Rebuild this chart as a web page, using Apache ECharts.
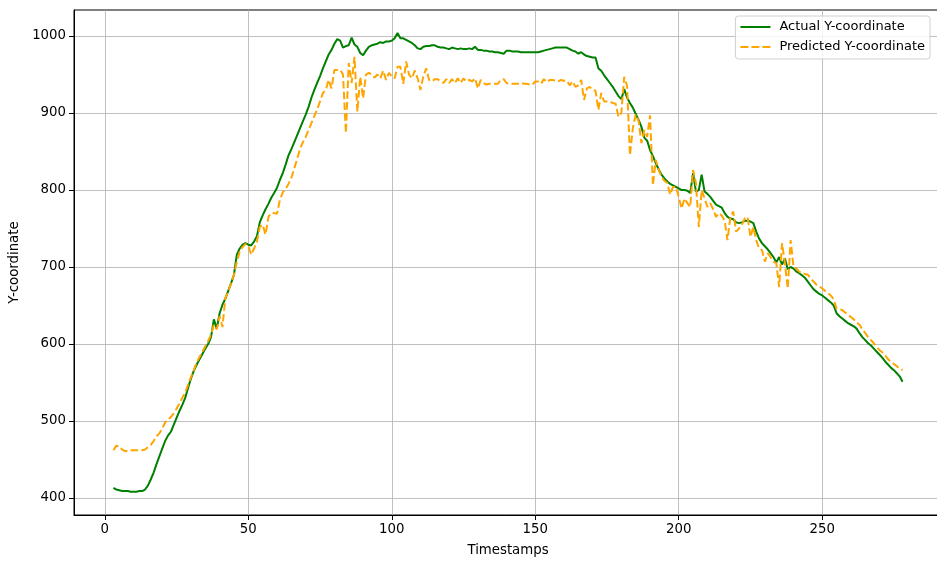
<!DOCTYPE html>
<html>
<head>
<meta charset="utf-8">
<script src="https://cdn.jsdelivr.net/npm/echarts@6/dist/echarts.min.js"></script>
<style>html,body{margin:0;padding:0;background:#fff;}#c{width:937px;height:561px;}</style>
</head>
<body>
<div id="c"></div>
<script>
const startT = 3;
const actual = [
413,411,410,409,409,409,408,408,408,409,409,411,416,424,433,444,454,464,474,481,
486,495,504,513,521,530,543,555,565,573,580,587,594,600,609,632,620,640,651,659,
669,679,690,716,724,729,731,729,728,733,740,758,767,775,782,790,796,803,813,822,
833,845,853,862,871,880,889,898,908,920,930,939,948,958,967,976,982,990,996,994,
985,987,988,998,989,986,978,975,981,986,988,989,990,992,991,993,993,994,997,1004,
997,997,995,993,991,988,984,983,986,987,987,988,988,986,985,985,984,983,985,984,
983,984,983,983,984,983,986,982,982,981,981,980,980,979,979,978,977,981,981,980,
980,980,979,979,979,979,979,979,979,980,981,982,983,984,985,985,985,985,985,983,
981,980,977,979,976,974,973,972,972,958,955,949,944,939,934,928,922,918,931,920,
913,907,899,891,882,868,864,852,844,835,827,820,815,811,808,806,804,802,800,800,
799,796,822,798,800,820,798,795,791,786,781,779,777,770,765,763,762,758,757,758,
760,760,759,757,746,737,731,727,723,718,713,706,713,703,711,697,700,698,694,692,
689,686,681,676,671,668,665,663,660,657,654,650,640,636,633,630,627,625,623,620,
614,609,605,601,598,594,590,586,582,577,573,569,566,562,558,551
];
const predicted = [
462,468,467,463,461,461,462,462,462,462,462,463,466,469,474,480,484,490,498,502,
505,510,516,523,530,537,547,557,566,576,583,590,597,604,612,625,619,636,622,660,
668,679,690,707,720,726,730,727,716,724,733,752,755,742,765,770,770,769,787,797,
801,808,816,828,840,853,862,869,878,887,896,905,915,926,930,943,932,956,956,956,
950,874,965,939,973,902,947,919,950,952,950,946,950,945,955,943,952,948,945,960,
960,938,967,950,945,955,945,930,948,958,943,941,944,944,941,939,944,939,944,939,
945,939,945,941,943,941,945,932,943,939,937,938,938,938,938,943,944,939,938,938,
938,938,939,938,938,937,937,941,941,938,944,940,943,943,942,941,943,942,942,936,
941,934,936,943,917,932,934,930,929,904,926,915,915,915,913,912,895,900,947,935,
845,880,898,890,861,878,869,897,806,839,826,817,812,809,794,804,804,791,776,789,
783,778,826,809,752,800,789,778,783,775,765,770,767,760,735,765,772,746,750,755,
763,765,739,752,735,724,722,707,718,713,707,705,674,731,705,672,735,700,698,694,
692,691,690,685,681,677,675,672,669,666,663,658,646,645,644,641,638,635,632,628,
625,619,614,609,605,601,596,592,589,585,580,577,574,571,568,566
];
const xTicks = [0, 50, 100, 150, 200, 250];
const yTicks = [400, 500, 600, 700, 800, 900, 1000];
const seriesNames = ['Actual Y-coordinate', 'Predicted Y-coordinate'];

const actualData = actual.map((v, i) => [startT + i, v]);
const predData = predicted.map((v, i) => [startT + i, v]);
const font = '"DejaVu Sans", sans-serif';
const fs = 13.3;

const chart = echarts.init(document.getElementById('c'), null, {renderer: 'canvas'});
chart.setOption({
  animation: false,
  backgroundColor: '#fff',
  grid: {left: 74, top: 10, right: -5, bottom: 46, containLabel: false, outerBoundsMode: 'none',
         show: true, borderColor: '#000', borderWidth: 1, backgroundColor: 'transparent'},
  legend: {
    orient: 'vertical', right: 7, top: 16,
    itemWidth: 30, itemHeight: 2, itemGap: 4,
    padding: [3, 5, 4, 5],
    backgroundColor: 'rgba(255,255,255,0.8)', borderColor: '#d0d0d0', borderWidth: 1, borderRadius: 3,
    textStyle: {fontFamily: font, fontSize: 13, lineHeight: 16, color: '#000', padding: [0, 0, 0, 4]},
    data: [
      {name: seriesNames[0], icon: 'path://M0,0h30v2H0z'},
      {name: seriesNames[1], icon: 'path://M0,0h8v2H0zM11,0h8v2H11zM22,0h8v2H22z'}
    ]
  },
  xAxis: {
    type: 'value', min: -10.75, max: 291.75,
    name: 'Timestamps', nameLocation: 'middle', nameGap: 29,
    nameTextStyle: {fontFamily: font, fontSize: fs, color: '#000'},
    axisLine: {onZero: false, lineStyle: {color: '#000', width: 1}},
    axisTick: {show: true, length: 5, customValues: xTicks, lineStyle: {color: '#000'}},
    axisLabel: {customValues: xTicks, fontFamily: font, fontSize: fs, color: '#000', margin: 8,
                formatter: v => String(v)},
    splitLine: {show: true, lineStyle: {color: '#b0b0b0', width: 0.8}}
  },
  yAxis: {
    type: 'value', min: 377.9, max: 1033.8,
    name: 'Y-coordinate', nameLocation: 'middle', nameGap: 49, nameRotate: 90,
    nameTextStyle: {fontFamily: font, fontSize: fs, color: '#000'},
    axisLine: {show: true, onZero: false, lineStyle: {color: '#000', width: 1}},
    axisTick: {show: true, length: 5, customValues: yTicks, lineStyle: {color: '#000'}},
    axisLabel: {customValues: yTicks, fontFamily: font, fontSize: fs, color: '#000', margin: 8,
                formatter: v => String(v)},
    splitLine: {show: true, lineStyle: {color: '#b0b0b0', width: 0.8}}
  },
  series: [
    {name: seriesNames[0], type: 'line', data: actualData, symbol: 'none', showSymbol: false,
     lineStyle: {color: '#008000', width: 2}, itemStyle: {color: '#008000'}},
    {name: seriesNames[1], type: 'line', data: predData, symbol: 'none', showSymbol: false,
     lineStyle: {color: '#ffa500', width: 2, type: [7.5, 3.3]}, itemStyle: {color: '#ffa500'}}
  ]
});
</script>
</body>
</html>
